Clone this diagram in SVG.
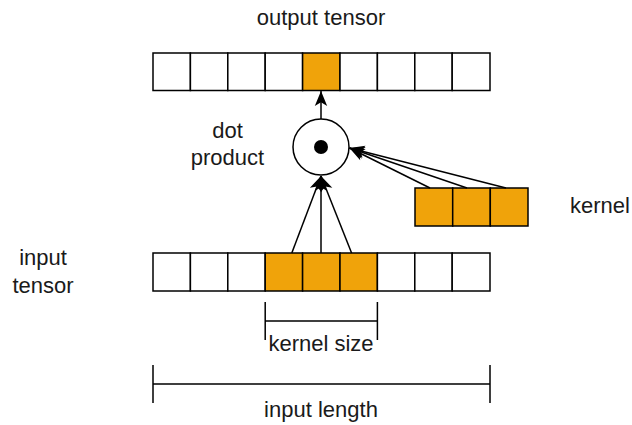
<svg xmlns="http://www.w3.org/2000/svg" width="632" height="425" viewBox="0 0 632 425">
  <style>
    .cell { fill: #ffffff; stroke: #000000; stroke-width: 1.5; }
    .hot { fill: #f0a30a; stroke: #000000; stroke-width: 1.5; }
    .line { fill: none; stroke: #000000; stroke-width: 1.5; }
    .lbl { font-family: "Liberation Sans", Arial, sans-serif; font-size: 22px; fill: #1a1a1a; }
    .mid { text-anchor: middle; }
  </style>
  <defs>
    <marker id="arrow" markerUnits="userSpaceOnUse" markerWidth="17" markerHeight="14" viewBox="0 0 17 14" refX="16" refY="7" orient="auto">
      <path d="M16,7 L1,0.8 L4.8,7 L1,13.2 Z" fill="#000000"/>
    </marker>
  </defs>

  <rect width="632" height="425" fill="#ffffff"/>

  <!-- output tensor: nine cells, the fifth one filled -->
  <g id="output-tensor">
    <rect class="cell" x="153" y="53" width="37.4" height="37.5"/>
    <rect class="cell" x="190.4" y="53" width="37.4" height="37.5"/>
    <rect class="cell" x="227.8" y="53" width="37.4" height="37.5"/>
    <rect class="cell" x="265.2" y="53" width="37.4" height="37.5"/>
    <rect class="hot" x="302.6" y="53" width="37.4" height="37.5"/>
    <rect class="cell" x="340" y="53" width="37.4" height="37.5"/>
    <rect class="cell" x="377.4" y="53" width="37.4" height="37.5"/>
    <rect class="cell" x="414.8" y="53" width="37.4" height="37.5"/>
    <rect class="cell" x="452.2" y="53" width="37.8" height="37.5"/>
    <text class="lbl mid" x="321" y="25">output tensor</text>
  </g>

  <!-- dot product operator -->
  <g id="dot-product">
    <circle cx="321" cy="147" r="28" fill="#ffffff" stroke="#000000" stroke-width="1.5"/>
    <circle cx="321" cy="147" r="7" fill="#000000"/>
    <text class="lbl mid" x="227.5" y="138">dot</text>
    <text class="lbl mid" x="227.5" y="165">product</text>
  </g>

  <!-- kernel: three filled cells -->
  <g id="kernel">
    <rect class="hot" x="415" y="188" width="37.7" height="38"/>
    <rect class="hot" x="452.7" y="188" width="37.6" height="38"/>
    <rect class="hot" x="490.3" y="188" width="37.7" height="38"/>
    <text class="lbl" x="570" y="213">kernel</text>
  </g>

  <!-- input tensor: nine cells, the window of three filled -->
  <g id="input-tensor">
    <rect class="cell" x="153" y="253" width="37.4" height="38"/>
    <rect class="cell" x="190.4" y="253" width="37.4" height="38"/>
    <rect class="cell" x="227.8" y="253" width="37.4" height="38"/>
    <rect class="hot" x="265.2" y="253" width="37.4" height="38"/>
    <rect class="hot" x="302.6" y="253" width="37.4" height="38"/>
    <rect class="hot" x="340" y="253" width="37.4" height="38"/>
    <rect class="cell" x="377.4" y="253" width="37.4" height="38"/>
    <rect class="cell" x="414.8" y="253" width="37.4" height="38"/>
    <rect class="cell" x="452.2" y="253" width="37.8" height="38"/>
    <text class="lbl mid" x="43" y="265">input</text>
    <text class="lbl mid" x="43" y="293">tensor</text>
  </g>

  <!-- dimension brackets -->
  <g id="kernel-size">
    <path class="line" d="M265.2,302 V340 M377.4,302 V340 M265.2,321 H377.4"/>
    <text class="lbl mid" x="321" y="351">kernel size</text>
  </g>
  <g id="input-length">
    <path class="line" d="M153,365 V403 M490,365 V403 M153,384 H490"/>
    <text class="lbl mid" x="321" y="417">input length</text>
  </g>

  <!-- connectors -->
  <g id="connectors">
    <path class="line" d="M321,119 V91" marker-end="url(#arrow)"/>
    <path class="line" d="M291.8,253 L321,176" marker-end="url(#arrow)"/>
    <path class="line" d="M321,253 V176" marker-end="url(#arrow)"/>
    <path class="line" d="M351.6,253 L321,176" marker-end="url(#arrow)"/>
    <path class="line" d="M430,188 L349.5,148" marker-end="url(#arrow)"/>
    <path class="line" d="M467,188 L349.5,148" marker-end="url(#arrow)"/>
    <path class="line" d="M506,188 L349.5,148" marker-end="url(#arrow)"/>
  </g>
</svg>
